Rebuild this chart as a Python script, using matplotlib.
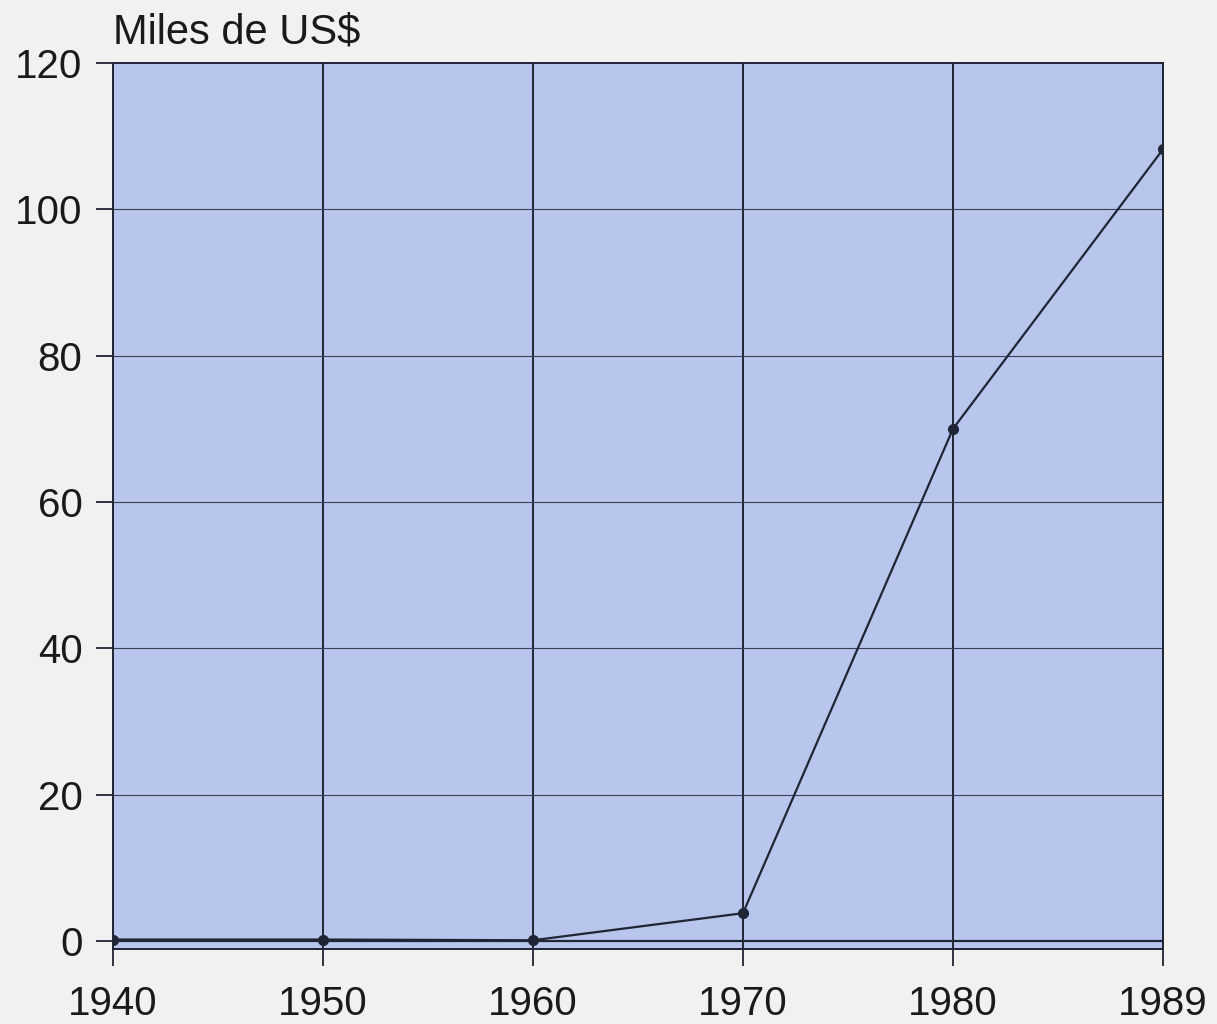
import matplotlib
matplotlib.use("Agg")
import matplotlib.pyplot as plt

years = ["1940", "1950", "1960", "1970", "1980", "1989"]
values = [0.2, 0.2, 0.1, 3.8, 70.0, 108.2]
yticks = [0, 20, 40, 60, 80, 100, 120]

plt.rcParams['font.family'] = ['Liberation Sans', 'DejaVu Sans']

paper = '#f1f1ef'
fill = '#b8c5ec'
ink = '#1f2535'

fig = plt.figure(figsize=(12.17, 10.24), dpi=100, facecolor=paper)
ax = fig.add_axes([0.0929, 0.0732, 0.8627, 0.8653])
ax.set_facecolor(fill)

x = list(range(len(years)))
ax.plot(x, values, color=ink, lw=1.6, marker='o', ms=7, zorder=5)

ax.set_xlim(0, len(years) - 1)
ax.set_ylim(-1.1, 120)
ax.set_xticks(x)
ax.set_xticklabels(years)
ax.set_yticks(yticks)

for xi in x:
    ax.axvline(xi, color=ink, lw=1.4, zorder=2)
for yv in yticks[1:-1]:
    ax.axhline(yv, color='#3a4157', lw=0.8, zorder=2)
ax.axhline(0, color=ink, lw=1.6, zorder=3)

for s in ax.spines.values():
    s.set_color(ink)
    s.set_linewidth(1.4)

ax.tick_params(axis='both', length=12, width=1.3, color=ink, labelsize=29,
               labelcolor='#1a1a1a')
ax.tick_params(axis='x', pad=14)
ax.tick_params(axis='y', pad=10)

fig.text(0.093, 0.988, "Miles de US$", fontsize=30, color='#1a1a1a',
         ha='left', va='top')

fig.savefig("out.png", dpi=100, facecolor=paper)
